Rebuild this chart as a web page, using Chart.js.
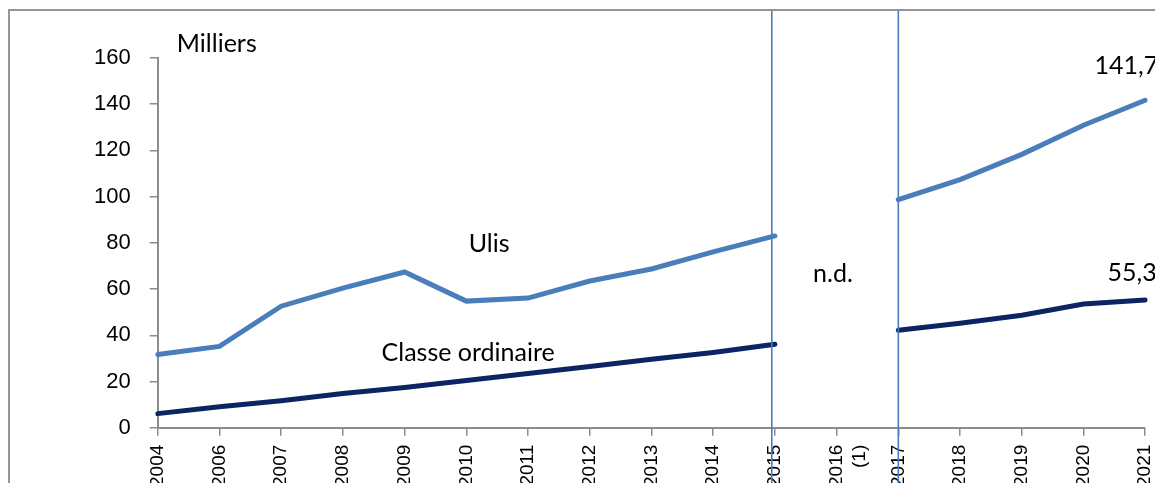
<!DOCTYPE html>
<html>
<head>
<meta charset="utf-8">
<script src="https://cdn.jsdelivr.net/npm/chart.js@4"></script>
<style>
  html, body { margin: 0; padding: 0; background: #fff; overflow: hidden; }
  #wrap { position: relative; width: 1177px; height: 496px; }
</style>
</head>
<body>
<div id="wrap"><canvas id="chart"></canvas></div>
<script>
// annees (2016 non disponible)
var years = ['2004', '2006', '2007', '2008', '2009', '2010', '2011', '2012', '2013', '2014', '2015',
             ['2016', '(1)'], '2017', '2018', '2019', '2020', '2021'];
// effectifs en milliers
var ulis = [31.7, 35.2, 52.6, 60.4, 67.4, 54.8, 56.1, 63.5, 68.7, 76.1, 83.0,
            null, 98.7, 107.4, 118.3, 130.9, 141.7];
var classeOrdinaire = [6.1, 9.1, 11.7, 14.8, 17.4, 20.4, 23.5, 26.5, 29.6, 32.6, 36.1,
                       null, 42.2, 45.2, 48.7, 53.5, 55.3];
var yTicks = [0, 20, 40, 60, 80, 100, 120, 140, 160];
// ruptures de serie (index de categorie)
var breaks = [9.95, 12];

var blue = '#4a7ebb';
var navy = '#0c2461';
var textFont = 'Lato, "Open Sans", sans-serif';

// libelles places en coordonnees de donnees [texte, index x, valeur y, alignement]
var notes = [
   ['Milliers', 0.31, 166, 'left'],
   ['Ulis', 5.37, 79.6, 'center'],
   ['Classe ordinaire', 5.03, 32.2, 'center'],
   ['n.d.', 10.94, 66.5, 'center'],
   ['141,7', 15.18, 156.5, 'left'],
   ['55,3', 15.39, 67, 'left']
];

var extras = {
   id: 'extras',
   afterDraw: function (chart) {
      var ctx = chart.ctx;
      var x = chart.scales.x, y = chart.scales.y;
      ctx.save();
      // cadre
      ctx.strokeStyle = '#959595';
      ctx.lineWidth = 2;
      ctx.beginPath();
      ctx.moveTo(9, chart.height);
      ctx.lineTo(9, 10);
      ctx.lineTo(chart.width, 10);
      ctx.stroke();
      // traits verticaux
      ctx.strokeStyle = blue;
      ctx.lineWidth = 1.6;
      for (var b of breaks) {
         var px = x.getPixelForValue(b);
         ctx.beginPath();
         ctx.moveTo(px, 11);
         ctx.lineTo(px, chart.height);
         ctx.stroke();
      }
      // libelles
      ctx.fillStyle = '#000';
      ctx.font = '25px ' + textFont;
      ctx.textBaseline = 'middle';
      for (var n of notes) {
         ctx.textAlign = n[3];
         ctx.fillText(n[0], x.getPixelForValue(n[1]), y.getPixelForValue(n[2]));
      }
      ctx.restore();
   }
};

new Chart(document.getElementById('chart'), {
   type: 'line',
   data: {
      labels: years,
      datasets: [{
         label: 'Ulis',
         data: ulis,
         borderColor: blue,
         borderWidth: 5,
         borderCapStyle: 'round',
         pointRadius: 0,
         tension: 0,
         spanGaps: false
      }, {
         label: 'Classe ordinaire',
         data: classeOrdinaire,
         borderColor: navy,
         borderWidth: 5,
         borderCapStyle: 'round',
         pointRadius: 0,
         tension: 0,
         spanGaps: false
      }]
   },
   options: {
      responsive: true,
      maintainAspectRatio: false,
      animation: false,
      layout: { padding: { left: 75, top: 58, right: 0, bottom: 0 } },
      plugins: {
         legend: { display: false },
         tooltip: { enabled: false }
      },
      scales: {
         x: {
            offset: false,
            grid: { drawOnChartArea: false, drawTicks: true, tickLength: 8, color: '#8c8c8c', lineWidth: 1.5 },
            border: { display: true, color: '#8c8c8c', width: 2 },
            ticks: {
               minRotation: 90, maxRotation: 90, autoSkip: false, padding: 9,
               color: '#000', font: { family: '"Liberation Sans", Arial, sans-serif', size: 19 }
            }
         },
         y: {
            min: 0, max: 160,
            afterBuildTicks: function (axis) {
               axis.ticks = yTicks.map(function (v) { return { value: v }; });
            },
            grid: { drawOnChartArea: false, drawTicks: true, tickLength: 8, color: '#8c8c8c', lineWidth: 1.5 },
            border: { display: true, color: '#8c8c8c', width: 2 },
            ticks: {
               padding: 19,
               color: '#000', font: { family: '"Liberation Sans", Arial, sans-serif', size: 22 }
            }
         }
      }
   },
   plugins: [extras]
});
</script>
</body>
</html>
